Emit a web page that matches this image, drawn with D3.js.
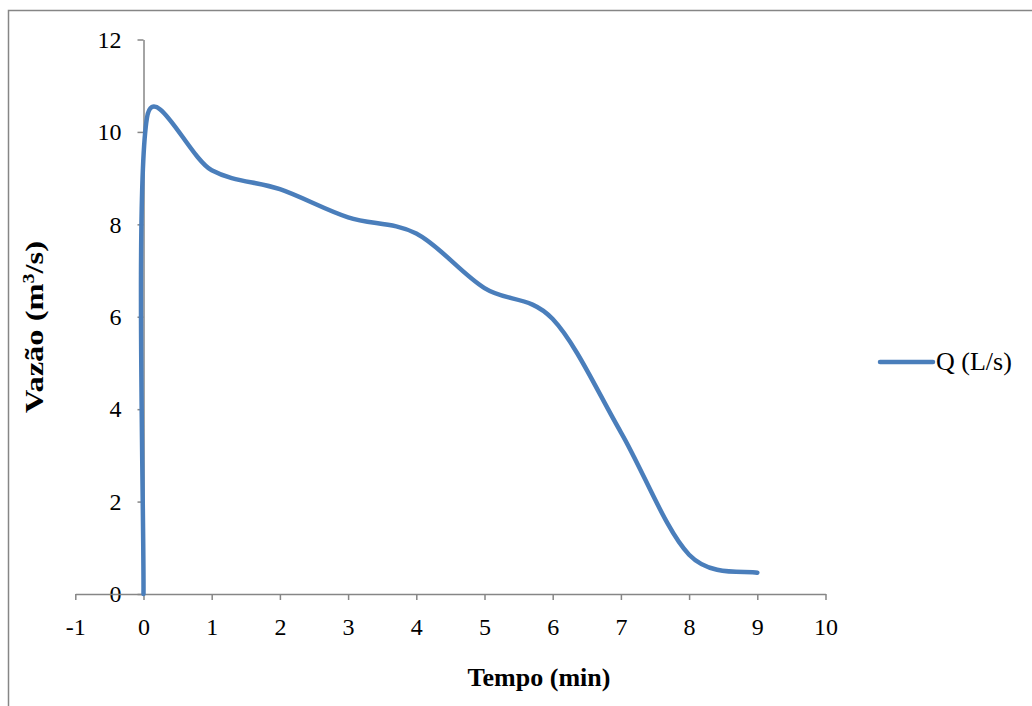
<!DOCTYPE html>
<html>
<head>
<meta charset="utf-8">
<script src="https://cdn.jsdelivr.net/npm/d3@7"></script>
<style>
  body { margin: 0; background: #fff; }
  text { font-family: "Liberation Serif", "Times New Roman", serif; }
</style>
</head>
<body>
<div id="chart"></div>
<script>
// Data (tempo in min, vazão)
const tempo  = [0, 0.05, 1, 2, 3, 4, 5, 6, 7, 8, 9];
const vazao  = [0, 10.3, 9.17, 8.76, 8.15, 7.8, 6.62, 5.95, 3.5, 0.85, 0.46];
const xTicks = [-1, 0, 1, 2, 3, 4, 5, 6, 7, 8, 9, 10];
const yTicks = [0, 2, 4, 6, 8, 10, 12];
const seriesName = "Q (L/s)";

const width = 1032, height = 706;
const axisColor = "#868686";
const lineColor = "#4a7ebb";

// Smoothing close to a spreadsheet "smoothed line": bezier handles of 1/6 of the
// neighbour chord, capped at half of the current segment so short segments don't overshoot
function handle(a, b, seg) {
  let dx = (b[0] - a[0]) / 6, dy = (b[1] - a[1]) / 6;
  let len = Math.hypot(dx, dy), max = seg / 2;
  if (len > max) { dx *= max / len; dy *= max / len; }
  return [dx, dy];
}

function smoothCurve(context) {
  let pts;
  return {
    areaStart() {}, areaEnd() {},
    lineStart() { pts = []; },
    point(x, y) { pts.push([+x, +y]); },
    lineEnd() {
      let n = pts.length;
      if (!n) return;
      context.moveTo(pts[0][0], pts[0][1]);
      for (let i = 0; i < n - 1; i++) {
        let p0 = pts[Math.max(i - 1, 0)], p1 = pts[i], p2 = pts[i + 1], p3 = pts[Math.min(i + 2, n - 1)];
        let seg = Math.hypot(p2[0] - p1[0], p2[1] - p1[1]);
        let h1 = handle(p0, p2, seg), h2 = handle(p1, p3, seg);
        context.bezierCurveTo(p1[0] + h1[0], p1[1] + h1[1], p2[0] - h2[0], p2[1] - h2[1], p2[0], p2[1]);
      }
    }
  };
}

let svg = d3.select("#chart").append("svg")
  .attr("width", width).attr("height", height);

// outer chart frame (only top and left edges fall inside the picture)
svg.append("rect")
  .attr("x", 8.5).attr("y", 10.5)
  .attr("width", 1040).attr("height", 720)
  .attr("fill", "none").attr("stroke", axisColor).attr("stroke-width", 1.5);

let xScale = d3.scaleLinear().domain([-1, 10]).range([75.3, 825.5]);
let yScale = d3.scaleLinear().domain([0, 12]).range([594, 39.5]);

// y axis sits at x = 0
let yAxisG = svg.append("g")
  .attr("transform", "translate(" + xScale(0) + ",0)")
  .call(d3.axisLeft(yScale).tickValues(yTicks).tickFormat(d => String(d))
    .tickSize(6).tickSizeOuter(0).tickPadding(16));

// x axis at y = 0
let xAxisG = svg.append("g")
  .attr("transform", "translate(0," + yScale(0) + ")")
  .call(d3.axisBottom(xScale).tickValues(xTicks).tickFormat(d => String(d))
    .tickSize(6).tickSizeOuter(0).tickPadding(18));

[xAxisG, yAxisG].forEach(g => {
  g.select(".domain").attr("stroke", axisColor).attr("stroke-width", 1.5);
  g.selectAll(".tick line").attr("stroke", axisColor).attr("stroke-width", 1.5);
  g.selectAll(".tick text")
    .attr("fill", "#000")
    .attr("font-size", 24)
    .attr("font-family", "Liberation Serif, Times New Roman, serif");
});

// series line
let line = d3.line()
  .x((d, i) => xScale(tempo[i]))
  .y((d, i) => yScale(vazao[i]))
  .curve(smoothCurve);

svg.append("path")
  .datum(vazao)
  .attr("d", line)
  .attr("fill", "none")
  .attr("stroke", lineColor)
  .attr("stroke-width", 4.5)
  .attr("stroke-linecap", "round")
  .attr("stroke-linejoin", "round");

// axis titles
svg.append("text")
  .attr("x", 539).attr("y", 686)
  .attr("text-anchor", "middle")
  .attr("font-size", 26).attr("font-weight", "bold")
  .text("Tempo (min)");

// the original's vertical title is drawn a bit stretched along its length
let yTitle = svg.append("text")
  .attr("transform", "translate(43,327) rotate(-90) scale(1.25,1)")
  .attr("text-anchor", "middle")
  .attr("font-size", 26).attr("font-weight", "bold");
yTitle.append("tspan").text("Vazão (m");
yTitle.append("tspan").attr("font-size", 16).attr("dy", -9).text("3");
yTitle.append("tspan").attr("dy", 9).text("/s)");

// legend
svg.append("line")
  .attr("x1", 880).attr("x2", 933)
  .attr("y1", 362).attr("y2", 362)
  .attr("stroke", lineColor).attr("stroke-width", 4.5)
  .attr("stroke-linecap", "round");

svg.append("text")
  .attr("x", 936).attr("y", 370)
  .attr("font-size", 26)
  .text(seriesName);
</script>
</body>
</html>
